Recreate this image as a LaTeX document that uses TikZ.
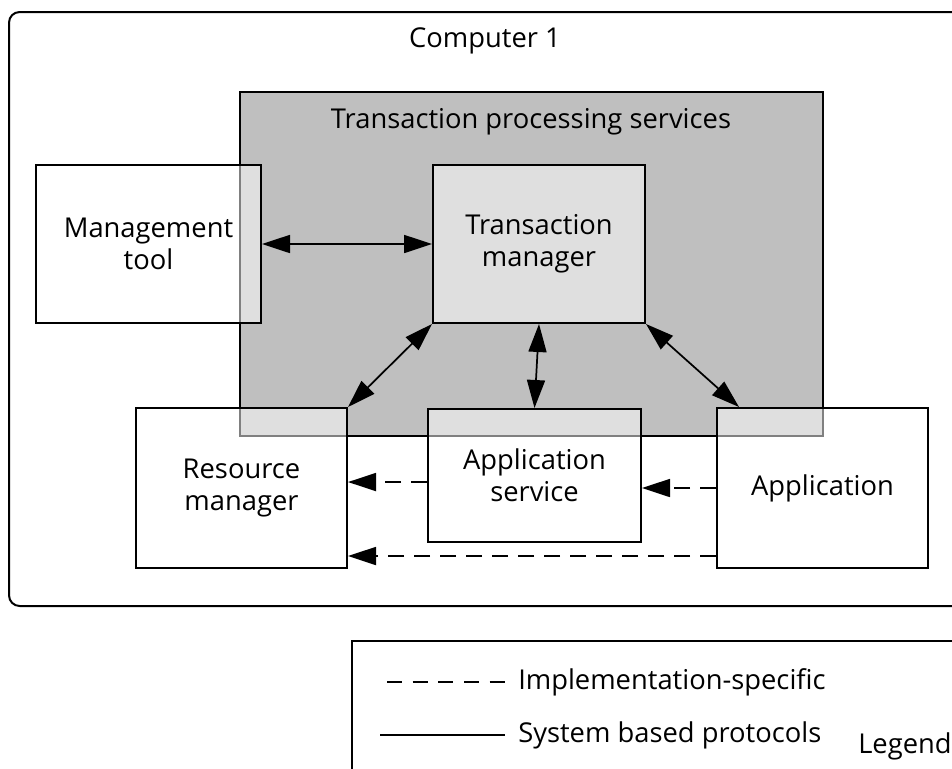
\documentclass[tikz,border=0pt]{standalone}
\usepackage{fontspec}
\setmainfont{Open Sans}
\usetikzlibrary{arrows.meta}
\begin{document}
\begin{tikzpicture}[x=0.75pt,y=-0.75pt,
  every node/.style={font=\fontsize{20.5}{24}\selectfont},
  lbl/.style={inner sep=0pt},
  box/.style={draw=black,line width=1.5pt,fill=white,fill opacity=0.5,text opacity=1,align=center,inner sep=0pt},
  tpsbox/.style={draw=black,line width=1.5pt,fill=black!25,inner sep=0pt},
  biarrow/.style={line width=1.3pt,{Triangle[length=21pt,width=13.5pt]}-{Triangle[length=21pt,width=13.5pt]}},
  dasharrow/.style={line width=1.3pt,dash pattern=on 12pt off 7.5pt,-{Triangle[length=21pt,width=13.5pt]}},
]
\useasboundingbox (0,0) rectangle (952,768);
\clip (0,0) rectangle (952,768);
% outer computer box
\draw[line width=1.5pt,rounded corners=8pt] (9,12) rectangle (990,606);
\node[lbl] (comp) at (485,41) {Computer 1};
% transaction processing services
\node[tpsbox,minimum width=437.25pt,minimum height=258pt] (tps) at (531.5,264) {};
\node[lbl] (tpslabel) at (531,122) {Transaction processing services};
% boxes
\node[box,minimum width=168.75pt,minimum height=118.5pt] (mt) at (148.5,244) {Management\\tool};
\node[box,minimum width=159pt,minimum height=118.5pt] (tm) at (539,244) {Transaction\\manager};
\node[box,minimum width=158.25pt,minimum height=120pt] (rm) at (241.5,488) {Resource\\manager};
\node[box,minimum width=159.75pt,minimum height=99.75pt] (as) at (534.5,475.5) {Application\\service};
\node[box,minimum width=158.25pt,minimum height=120pt] (app) at (822.5,488) {Application};
% solid arrows
\draw[biarrow] (mt.east) -- (tm.west);
\draw[biarrow] (tm.south west) -- (rm.north east);
\draw[biarrow] (tm.south) -- (as.north);
\draw[biarrow] (tm.south east) -- ([xshift=17.25pt]app.north west);
% dashed arrows
\coordinate (d1) at ([yshift=-4.9pt]as.west);
\draw[dasharrow] (d1) -- (d1 -| rm.east);
\draw[dasharrow] (app.west) -- (app.west -| as.east);
\coordinate (d3) at ([yshift=9.75pt]app.south west);
\draw[dasharrow] (d3) -- (d3 -| rm.east);
% legend
\draw[line width=1.5pt] (352,641) rectangle (990,800);
\coordinate (l1a) at (387,682);
\coordinate (l1b) at (505,682);
\draw[line width=1.3pt,dash pattern=on 11.25pt off 8pt] (l1a) -- (l1b);
\node[lbl,anchor=west] (impl) at (518,682) {Implementation-specific};
\coordinate (l2a) at (380,735);
\coordinate (l2b) at (505,735);
\draw[line width=1.3pt] (l2a) -- (l2b);
\node[lbl,anchor=west] (sys) at (518,735) {System based protocols};
\node[lbl,anchor=west] (leg) at (858,746) {Legend};
\end{tikzpicture}
\end{document}
